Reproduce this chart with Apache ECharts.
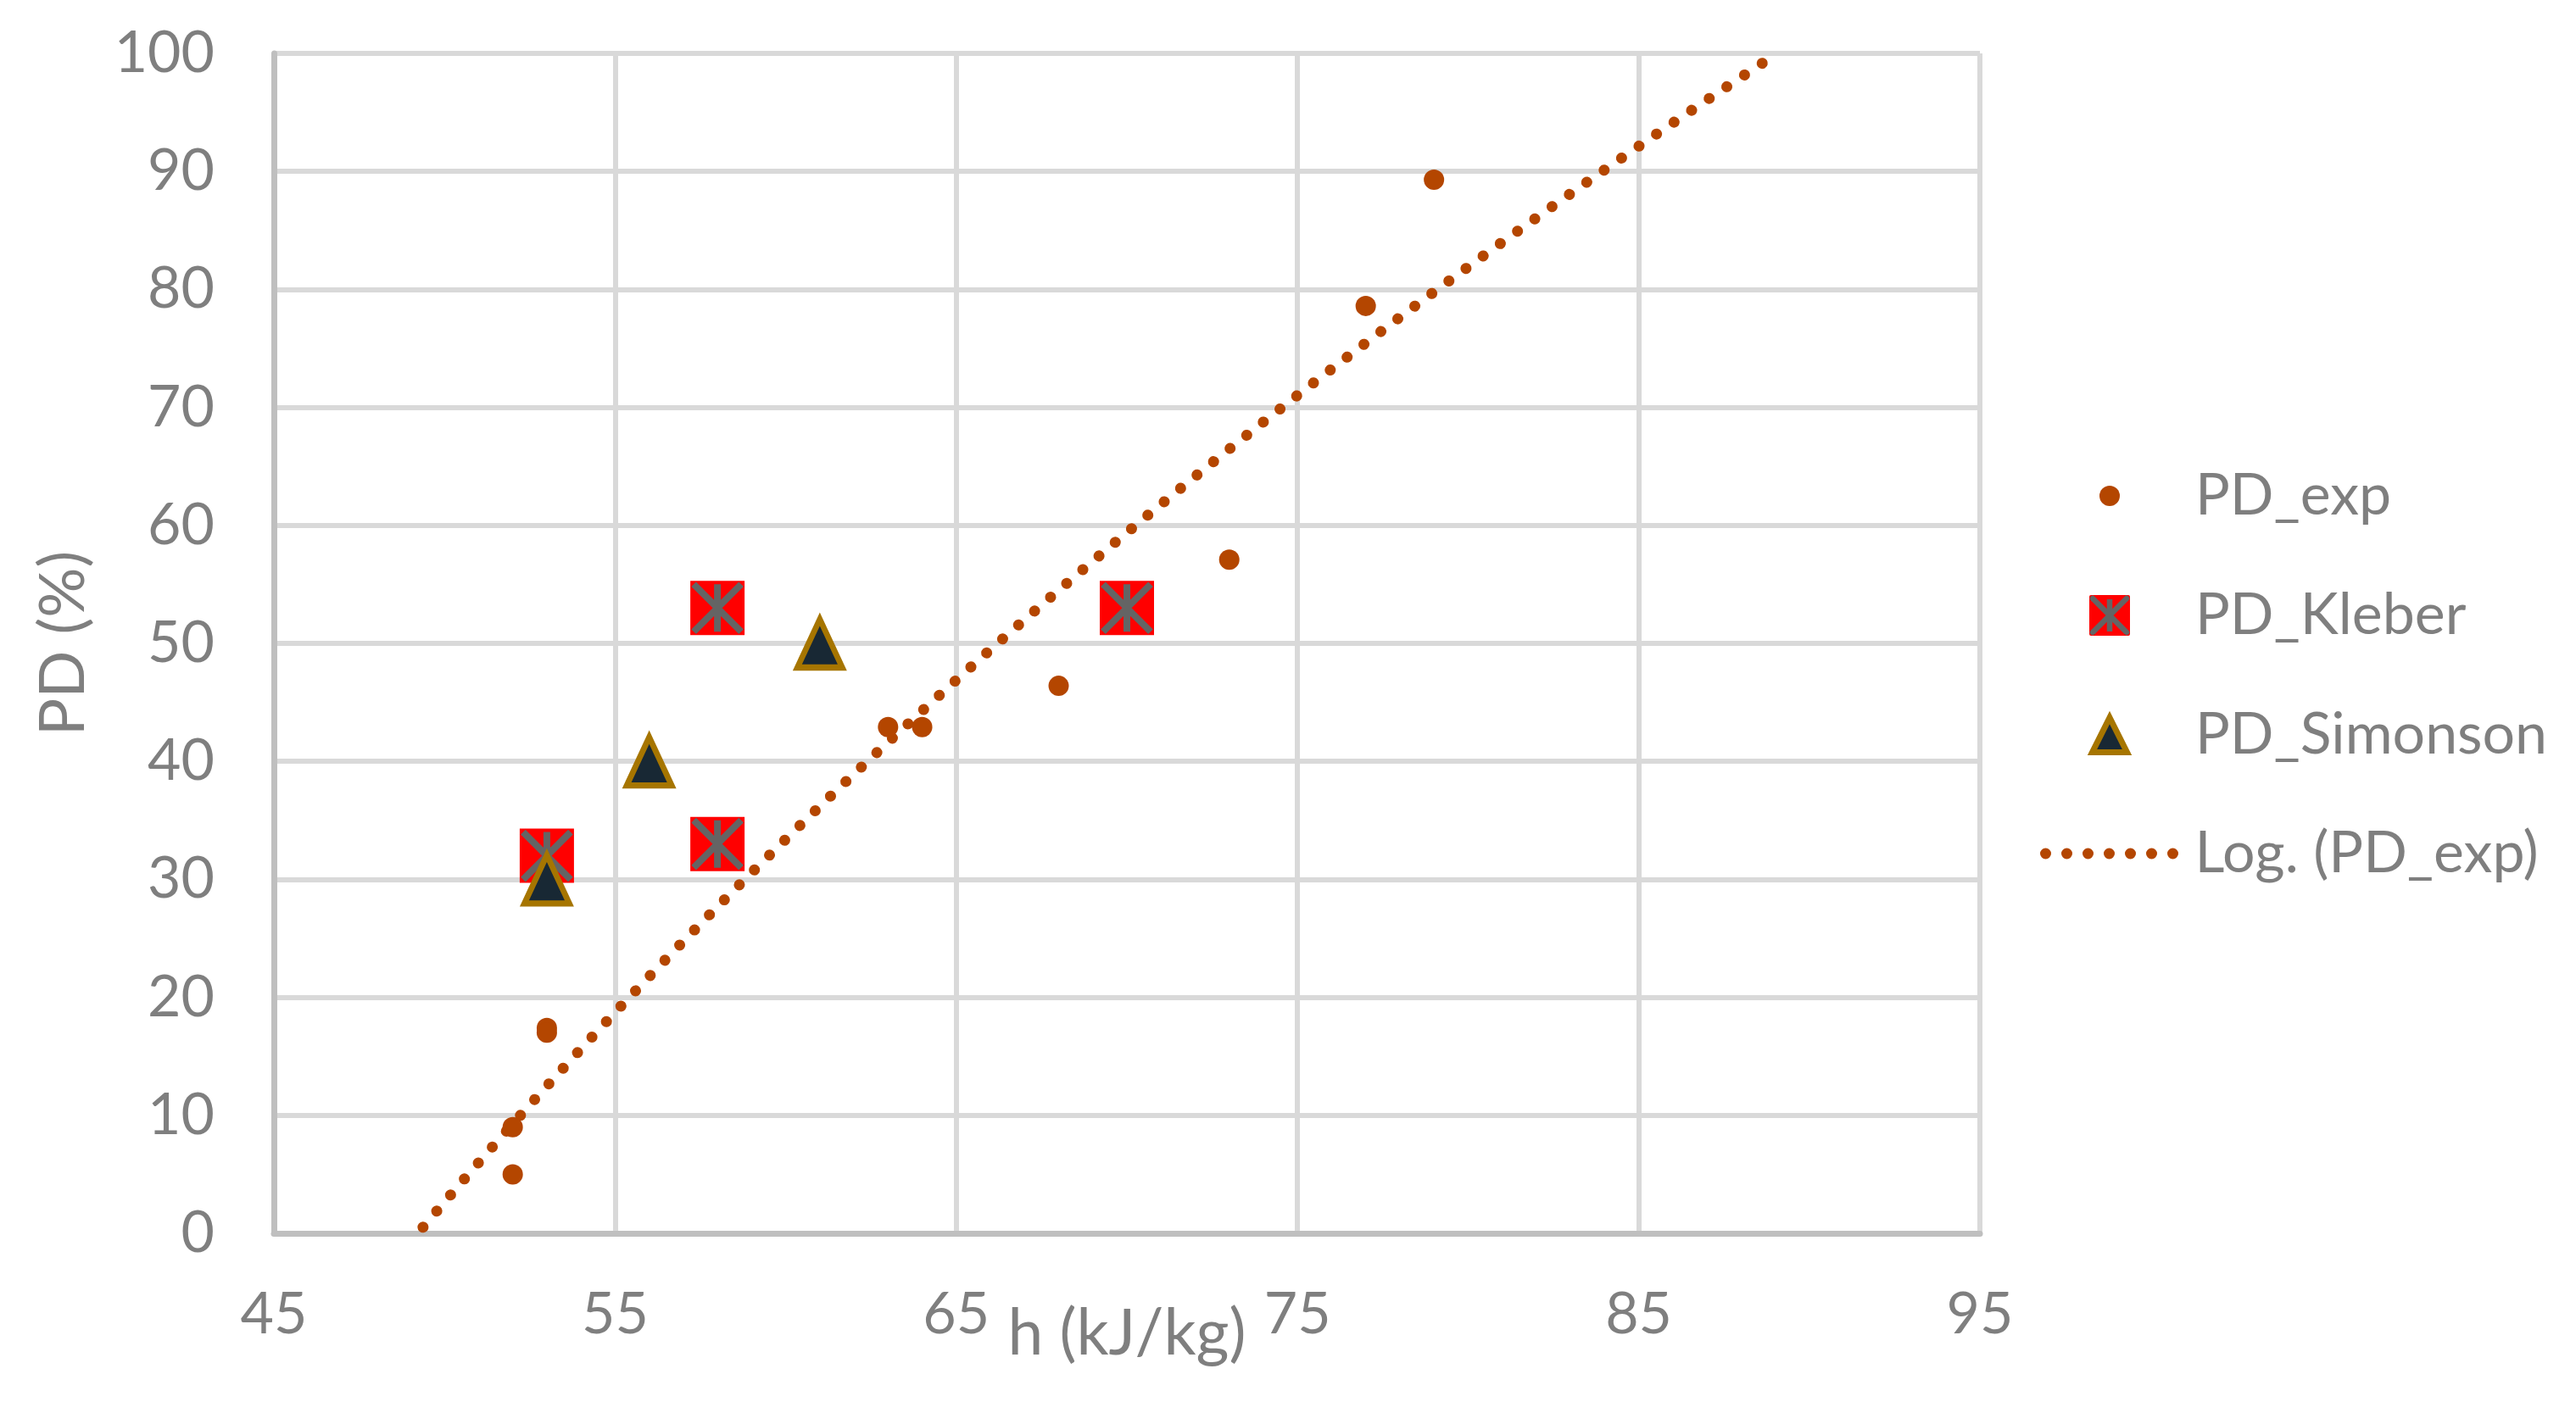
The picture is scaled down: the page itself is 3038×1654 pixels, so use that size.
<!DOCTYPE html>
<html>
<head>
<meta charset="utf-8">
<script src="https://cdn.jsdelivr.net/npm/echarts@6/dist/echarts.min.js"></script>
<style>
html,body{margin:0;padding:0;background:#ffffff;}
#chart{width:3038px;height:1654px;}
</style>
</head>
<body>
<div id="chart"></div>
<script>
// ---- data ----
const expH = [52, 52, 53, 53, 63, 64, 68, 73, 77, 79];
const expPD = [9, 5, 17.4, 17.0, 42.9, 42.9, 46.4, 57.1, 78.6, 89.3];
const kleberH = [53, 58, 58, 70];
const kleberPD = [32, 53, 33, 53];
const simonsonH = [53, 56, 61];
const simonsonPD = [30, 40, 50];
const xTicks = [45, 55, 65, 75, 85, 95];
const yTicks = [0, 10, 20, 30, 40, 50, 60, 70, 80, 90, 100];
const seriesNames = ['PD_exp', 'PD_Kleber', 'PD_Simonson', 'Log. (PD_exp)'];
const xTitle = 'h (kJ/kg)';
const yTitle = 'PD (%)';

// ---- logarithmic trendline: least squares fit of PD_exp on ln(h) ----
const lnH = expH.map(v => Math.log(v));
const mL = lnH.reduce((s, v) => s + v, 0) / lnH.length;
const mY = expPD.reduce((s, v) => s + v, 0) / expPD.length;
let sxy = 0, sxx = 0;
for (let i = 0; i < lnH.length; i++) { sxy += (lnH[i] - mL) * (expPD[i] - mY); sxx += (lnH[i] - mL) * (lnH[i] - mL); }
const fitA = sxy / sxx, fitB = mY - fitA * mL;
const yMin = yTicks[0], yMax = yTicks[yTicks.length - 1];
const xStart = Math.exp((yMin - fitB) / fitA), xEnd = Math.exp((yMax - fitB) / fitA);
const trend = [];
const nT = 300;
for (let i = 0; i <= nT; i++) {
  const x = xStart + (xEnd - xStart) * i / nT;
  trend.push([x, fitA * Math.log(x) + fitB]);
}

const zip = (a, b) => a.map((v, i) => [v, b[i]]);

// ---- styles ----
const FONT = 'Lato';
const TXT = '#7f7f7f';
const ORANGE = '#B44600';
const asteriskPath = 'path://M0 0L100 100M100 0L0 100M50 0L50 100';
const trianglePath = 'path://M50 0L100 100L0 100Z';
const kleberSvg = '<svg xmlns="http://www.w3.org/2000/svg" width="48" height="48" viewBox="0 0 48 48">' +
  '<rect x="0" y="0" width="48" height="48" rx="2" ry="2" fill="#FF0000"/>' +
  '<g stroke="#646464" stroke-width="6.5" stroke-linecap="round">' +
  '<line x1="4" y1="4" x2="44" y2="44"/><line x1="44" y1="4" x2="4" y2="44"/></g>' +
  '<line x1="24" y1="5" x2="24" y2="43" stroke="#646464" stroke-width="6.5"/></svg>';
const kleberIcon = 'image://data:image/svg+xml;charset=utf-8,' + encodeURIComponent(kleberSvg);
let dotsPath = 'path://';
for (let k = 0; k < 7; k++) {
  const cx = 6.5 + 25 * k;
  dotsPath += 'M' + cx + ' 0A6.5 6.5 0 1 1 ' + cx + ' 13A6.5 6.5 0 1 1 ' + cx + ' 0Z';
}

const legendBase = {
  orient: 'vertical', padding: 0, itemWidth: 192, selectedMode: false,
  symbolKeepAspect: true,
  textStyle: { fontFamily: FONT, fontSize: 68, color: TXT, lineHeight: 80 }
};

const option = {
  backgroundColor: '#ffffff',
  animation: false,
  grid: { left: 323, right: 703, top: 63, bottom: 199, containLabel: false, outerBoundsMode: 'none' },
  xAxis: {
    type: 'value', min: xTicks[0], max: xTicks[xTicks.length - 1], interval: xTicks[1] - xTicks[0],
    axisLine: { show: true, onZero: false, lineStyle: { color: '#BFBFBF', width: 7 } },
    axisTick: { show: false },
    splitLine: { show: true, lineStyle: { color: '#D9D9D9', width: 6 } },
    axisLabel: { fontFamily: FONT, fontSize: 68, color: TXT, margin: 62, showMinLabel: true, showMaxLabel: true },
    name: xTitle, nameLocation: 'middle', nameGap: 81, nameMoveOverlap: false,
    nameTextStyle: { fontFamily: FONT, fontSize: 75, color: TXT }
  },
  yAxis: {
    type: 'value', min: yMin, max: yMax, interval: yTicks[1] - yTicks[0],
    axisLine: { show: true, onZero: false, lineStyle: { color: '#BFBFBF', width: 7 } },
    axisTick: { show: false },
    splitLine: { show: true, lineStyle: { color: '#D9D9D9', width: 6 } },
    axisLabel: { fontFamily: FONT, fontSize: 68, color: TXT, margin: 70, showMinLabel: true, showMaxLabel: true },
    name: yTitle, nameLocation: 'middle', nameRotate: 90, nameGap: 211,
    nameTextStyle: { fontFamily: FONT, fontSize: 74, color: TXT }
  },
  legend: [
    Object.assign({}, legendBase, { left: 2476, top: 545, itemHeight: 24,
      data: [{ name: seriesNames[0], icon: 'circle' }], itemStyle: { borderWidth: 0, opacity: 1 } }),
    Object.assign({}, legendBase, { left: 2392, top: 686, itemHeight: 48,
      data: [{ name: seriesNames[1], icon: kleberIcon }] }),
    Object.assign({}, legendBase, { left: 2464, top: 827, itemHeight: 41,
      data: [{ name: seriesNames[2], icon: trianglePath }],
      itemStyle: { borderWidth: 7, borderColor: '#A67500', color: '#182834', opacity: 1, borderJoin: 'miter' } }),
    Object.assign({}, legendBase, { left: 2406, top: 967, itemHeight: 13,
      data: [{ name: seriesNames[3], icon: dotsPath }], itemStyle: { color: ORANGE, borderWidth: 0, opacity: 1 } })
  ],
  series: [
    {
      name: seriesNames[3], type: 'line', data: trend, symbol: 'none', showSymbol: false,
      clip: true, silent: true, z: 1,
      itemStyle: { color: ORANGE },
      lineStyle: { color: ORANGE, width: 13, type: [0.1, 24.9], dashOffset: 15.6, cap: 'round', opacity: 1 }
    },
    {
      name: seriesNames[0], type: 'scatter', data: zip(expH, expPD), symbol: 'circle', symbolSize: 24, z: 2,
      itemStyle: { color: ORANGE, opacity: 1 }
    },
    {
      name: seriesNames[1], type: 'scatter', data: zip(kleberH, kleberPD), symbol: 'rect', symbolSize: 64, z: 3,
      itemStyle: { color: '#FF0000', opacity: 1 }
    },
    {
      name: seriesNames[1], type: 'scatter', data: zip(kleberH, kleberPD), symbol: asteriskPath, symbolSize: 56, z: 4,
      itemStyle: { color: 'rgba(0,0,0,0)', borderColor: '#646464', borderWidth: 8, opacity: 1 }
    },
    {
      name: seriesNames[2], type: 'scatter', data: zip(simonsonH, simonsonPD), symbol: 'triangle', symbolSize: [53, 57], z: 5,
      itemStyle: { color: '#182834', borderColor: '#A67500', borderWidth: 7, opacity: 1, borderJoin: 'miter', borderMiterLimit: 10 }
    }
  ]
};

const chart = echarts.init(document.getElementById('chart'), null, { renderer: 'canvas' });
chart.setOption(option);
</script>
</body>
</html>
